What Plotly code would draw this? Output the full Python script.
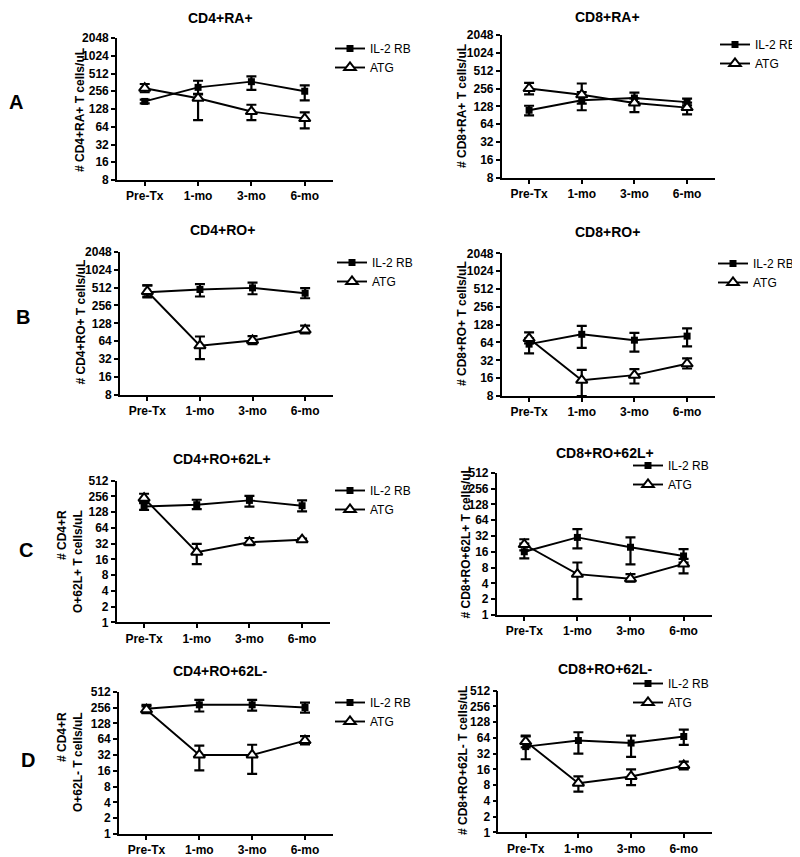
import math
import plotly.graph_objects as go

categories = ["Pre-Tx", "1-mo", "3-mo", "6-mo"]
series_names = ["IL-2 RB", "ATG"]

ticks_high = [8, 16, 32, 64, 128, 256, 512, 1024, 2048]
ticks_low = [1, 2, 4, 8, 16, 32, 64, 128, 256, 512]

# CD4+RA+
cd4_ra_il2 = [172, 298, 372, 256]
cd4_ra_il2_hi = [185, 386, 456, 322]
cd4_ra_il2_lo = [160, 226, 270, 179]
cd4_ra_atg = [288, 195, 116, 88]
cd4_ra_atg_hi = [340, 232, 151, 112]
cd4_ra_atg_lo = [246, 83, 83, 60]

# CD8+RA+
cd8_ra_il2 = [110, 162, 177, 151]
cd8_ra_il2_hi = [131, 222, 218, 173]
cd8_ra_il2_lo = [90, 110, 151, 133]
cd8_ra_atg = [256, 201, 146, 122]
cd8_ra_atg_hi = [318, 311, 175, 148]
cd8_ra_atg_lo = [204, 142, 102, 94]

# CD4+RO+
cd4_ro_il2 = [427, 474, 505, 411]
cd4_ro_il2_hi = [556, 583, 621, 499]
cd4_ro_il2_lo = [348, 362, 395, 338]
cd4_ro_atg = [439, 54, 66, 99]
cd4_ro_atg_hi = [556, 77, 78, 117]
cd4_ro_atg_lo = [360, 32, 57, 87]

# CD8+RO+
cd8_ro_il2 = [60, 88, 70, 82]
cd8_ro_il2_hi = [75, 122, 93, 111]
cd8_ro_il2_lo = [42, 52, 45, 55]
cd8_ro_atg = [75, 14.8, 18, 28]
cd8_ro_atg_hi = [95, 22, 22.7, 34.5]
cd8_ro_atg_lo = [62, 8, 13, 23.3]

# CD4+RO+62L+
cd4_62p_il2 = [164, 178, 215, 170]
cd4_62p_il2_hi = [205, 221, 263, 215]
cd4_62p_il2_lo = [142, 146, 164, 132]
cd4_62p_atg = [237, 22, 34, 38]
cd4_62p_atg_hi = [288, 31.6, 41, 40]
cd4_62p_atg_lo = [191, 13, 30, 35]

# CD8+RO+62L+
cd8_62p_il2 = [16, 30, 19.5, 13.3]
cd8_62p_il2_hi = [23, 43, 30, 18]
cd8_62p_il2_lo = [12, 18.5, 9.2, 9.9]
cd8_62p_atg = [22, 6, 4.9, 9.4]
cd8_62p_atg_hi = [27.7, 10, 6, 11.7]
cd8_62p_atg_lo = [17, 2, 4.3, 6.2]

# CD4+RO+62L-
cd4_62n_il2 = [242, 288, 288, 256]
cd4_62n_il2_hi = [288, 357, 357, 318]
cd4_62n_il2_lo = [200, 215, 223, 205]
cd4_62n_atg = [232, 32, 32, 60]
cd4_62n_atg_hi = [270, 48, 50, 73]
cd4_62n_atg_lo = [205, 16.3, 14, 51]

# CD8+RO+62L-
cd8_62n_il2 = [43.6, 57, 51, 68]
cd8_62n_il2_hi = [71, 82, 71, 92]
cd8_62n_il2_lo = [25, 32, 27.7, 47]
cd8_62n_atg = [54.5, 8.7, 11.7, 19]
cd8_62n_atg_hi = [68, 11.7, 16, 22.6]
cd8_62n_atg_lo = [42, 6, 8, 16]

W, H = 800, 857
OX, OY = 8, 8   # default page body margin
FONT = "Liberation Sans, Arial, sans-serif"


def fx(px):
    return (px - OX) / W


def fy(py):
    return 1 - (py - OY) / H


panels = [
    dict(title="CD4+RA+", ylab="# CD4+RA+ T cells/uL", ticks=ticks_high,
         il2=(cd4_ra_il2, cd4_ra_il2_hi, cd4_ra_il2_lo), atg=(cd4_ra_atg, cd4_ra_atg_hi, cd4_ra_atg_lo),
         box=(117, 333, 38, 180), tpos=(220, 18), ypos=(80, 110), leg=(330, 34)),
    dict(title="CD8+RA+", ylab="# CD8+RA+ T cells/uL", ticks=ticks_high,
         il2=(cd8_ra_il2, cd8_ra_il2_hi, cd8_ra_il2_lo), atg=(cd8_ra_atg, cd8_ra_atg_hi, cd8_ra_atg_lo),
         box=(501.7, 715, 35, 177.7), tpos=(607, 17), ypos=(462, 106), leg=(715, 30)),
    dict(title="CD4+RO+", ylab="# CD4+RO+ T cells/uL", ticks=ticks_high,
         il2=(cd4_ro_il2, cd4_ro_il2_hi, cd4_ro_il2_lo), atg=(cd4_ro_atg, cd4_ro_atg_hi, cd4_ro_atg_lo),
         box=(120, 333, 251.7, 395), tpos=(222, 230), ypos=(80, 322.5), leg=(332, 248)),
    dict(title="CD8+RO+", ylab="# CD8+RO+ T cells/uL", ticks=ticks_high,
         il2=(cd8_ro_il2, cd8_ro_il2_hi, cd8_ro_il2_lo), atg=(cd8_ro_atg, cd8_ro_atg_hi, cd8_ro_atg_lo),
         box=(501.7, 715, 253.3, 396), tpos=(607, 231.7), ypos=(462, 324), leg=(713, 249)),
    dict(title="CD4+RO+62L+", ylab="# CD4+R<br>O+62L+ T cells/uL", ticks=ticks_low,
         il2=(cd4_62p_il2, cd4_62p_il2_hi, cd4_62p_il2_lo), atg=(cd4_62p_atg, cd4_62p_atg_hi, cd4_62p_atg_lo),
         box=(116.7, 330, 480.7, 622.3), tpos=(222, 459), ypos=(70, 562), leg=(330, 476)),
    dict(title="CD8+RO+62L+", ylab="# CD8+RO+62L+ T cells/uL", ticks=ticks_low,
         il2=(cd8_62p_il2, cd8_62p_il2_hi, cd8_62p_il2_lo), atg=(cd8_62p_atg, cd8_62p_atg_hi, cd8_62p_atg_lo),
         box=(496.7, 711.7, 472.7, 615), tpos=(605, 452.7), ypos=(465, 542.5), leg=(628, 451)),
    dict(title="CD4+RO+62L-", ylab="# CD4+R<br>O+62L- T cells/uL", ticks=ticks_low,
         il2=(cd4_62n_il2, cd4_62n_il2_hi, cd4_62n_il2_lo), atg=(cd4_62n_atg, cd4_62n_atg_hi, cd4_62n_atg_lo),
         box=(119, 333, 691.7, 834), tpos=(220, 671), ypos=(70, 762), leg=(330, 688)),
    dict(title="CD8+RO+62L-", ylab="# CD8+RO+62L- T cells/uL", ticks=ticks_low,
         il2=(cd8_62n_il2, cd8_62n_il2_hi, cd8_62n_il2_lo), atg=(cd8_62n_atg, cd8_62n_atg_hi, cd8_62n_atg_lo),
         box=(498.3, 711.7, 690.7, 832.3), tpos=(605, 669), ypos=(463, 761), leg=(628, 669)),
]

letters = [("A", 16, 102.5), ("B", 23, 317), ("C", 26, 550), ("D", 28, 760)]

fig = go.Figure()
annotations = []
layout = {}

for i, p in enumerate(panels):
    n = i + 1
    xa = "x" if n == 1 else f"x{n}"
    ya = "y" if n == 1 else f"y{n}"
    lg = "legend" if n == 1 else f"legend{n}"
    x0, x1, y0, y1 = p["box"]
    ticks = p["ticks"]
    for name, (vals, hi, lo), sym in [(series_names[0], p["il2"], "square"),
                                      (series_names[1], p["atg"], "triangle-up")]:
        err_up = [h - v for h, v in zip(hi, vals)]
        err_dn = [v - l for v, l in zip(vals, lo)]
        if sym == "square":
            marker = dict(symbol="square", size=7, color="black", line=dict(color="black", width=0))
        else:
            marker = dict(symbol="triangle-up", size=10, color="white", line=dict(color="black", width=2))
        fig.add_trace(go.Scatter(
            x=categories, y=vals, name=name, mode="lines+markers",
            line=dict(color="black", width=1.9), marker=marker,
            error_y=dict(type="data", symmetric=False, array=err_up, arrayminus=err_dn,
                         color="black", thickness=2.2, width=5),
            xaxis=xa, yaxis=ya, legend=lg, cliponaxis=False,
        ))
    layout["xaxis" if n == 1 else f"xaxis{n}"] = dict(
        domain=[fx(x0), fx(x1)], anchor=ya, type="category", range=[-0.52, 3.53],
        showline=True, linecolor="black", linewidth=1.6, ticks="outside", ticklen=4,
        tickwidth=1.5, tickcolor="black", showgrid=False, zeroline=False,
        tickfont=dict(family=FONT, size=12, color="black", weight="bold"),
    )
    layout["yaxis" if n == 1 else f"yaxis{n}"] = dict(
        domain=[fy(y1), fy(y0)], anchor=xa, type="log",
        range=[math.log10(ticks[0]), math.log10(ticks[-1])],
        tickvals=ticks, ticktext=[str(t) for t in ticks],
        showline=True, linecolor="black", linewidth=1.6, ticks="outside", ticklen=4,
        tickwidth=1.5, tickcolor="black", showgrid=False, zeroline=False,
        tickfont=dict(family=FONT, size=12, color="black", weight="bold"),
    )
    lx, ly = p["leg"]
    layout[lg] = dict(x=fx(lx), y=fy(ly), xanchor="left", yanchor="top",
                      bgcolor="rgba(0,0,0,0)", borderwidth=0, itemwidth=30,
                      font=dict(family=FONT, size=12, color="black"), tracegroupgap=0)
    tx, ty = p["tpos"]
    annotations.append(dict(text=f"<b>{p['title']}</b>", x=fx(tx), y=fy(ty), xref="paper", yref="paper",
                            showarrow=False, xanchor="center", yanchor="middle",
                            font=dict(family=FONT, size=14, color="black")))
    yx, yy = p["ypos"]
    annotations.append(dict(text=f"<b>{p['ylab']}</b>", x=fx(yx), y=fy(yy), xref="paper", yref="paper",
                            showarrow=False, xanchor="center", yanchor="middle", textangle=-90,
                            align="right", font=dict(family=FONT, size=12, color="black")))

for t, lx, ly in letters:
    annotations.append(dict(text=f"<b>{t}</b>", x=fx(lx), y=fy(ly), xref="paper", yref="paper",
                            showarrow=False, xanchor="center", yanchor="middle",
                            font=dict(family=FONT, size=20, color="black")))

fig.update_layout(width=W, height=H, margin=dict(l=0, r=0, t=0, b=0, autoexpand=False),
                  paper_bgcolor="white", plot_bgcolor="white", showlegend=True,
                  annotations=annotations, **layout)

fig.write_html("out.html")
